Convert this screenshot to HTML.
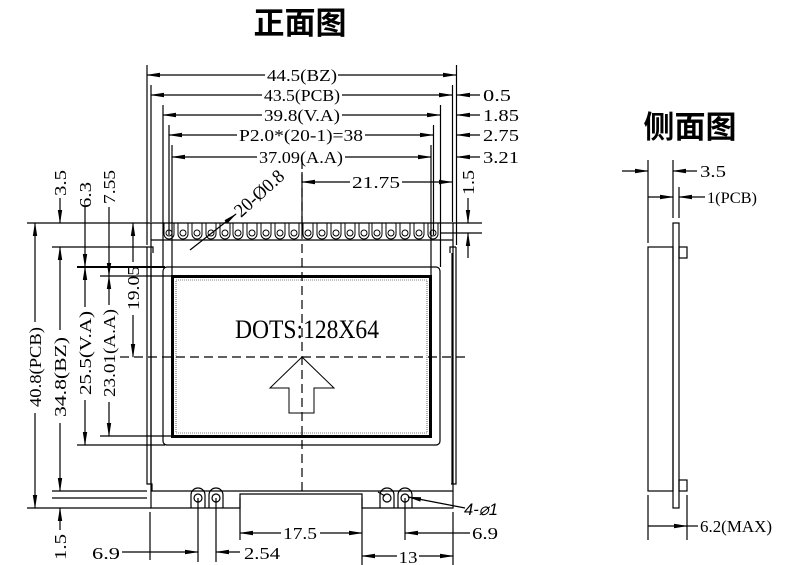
<!DOCTYPE html>
<html><head><meta charset="utf-8"><style>
html,body{margin:0;padding:0;background:#fff;}
svg{display:block;}
text{font-family:"Liberation Serif","Noto Serif CJK SC",serif;font-size:17px;fill:#000;}
.t{font-family:"Liberation Sans","Noto Sans CJK SC",sans-serif;font-size:31px;font-weight:bold;}
</style></head><body>
<svg width="797" height="565" viewBox="0 0 797 565" xmlns="http://www.w3.org/2000/svg">
<defs>
<marker id="a" markerWidth="14" markerHeight="6" refX="13" refY="3" orient="auto-start-reverse" markerUnits="userSpaceOnUse"><path d="M0,0.8 L14,3 L0,5.2 Z" fill="#000"/></marker>
</defs>
<text class="t" x="300" y="34" text-anchor="middle">正面图</text>
<text class="t" x="690" y="138" text-anchor="middle">侧面图</text>

<g stroke="#000" stroke-width="1.2" fill="none">
<line x1="147" y1="65" x2="147" y2="245"/><line x1="456.5" y1="65" x2="456.5" y2="245"/>
<line x1="151" y1="85" x2="151" y2="222"/><line x1="452.5" y1="85" x2="452.5" y2="222"/>
<line x1="163" y1="105" x2="163" y2="267"/><line x1="440.5" y1="105" x2="440.5" y2="267"/>
<line x1="169" y1="125" x2="169" y2="235"/><line x1="433.5" y1="125" x2="433.5" y2="235"/>
<line x1="172" y1="145" x2="172" y2="278"/><line x1="431" y1="145" x2="431" y2="278"/>
<line x1="302" y1="172" x2="302" y2="230"/>
<line x1="147" y1="75" x2="265" y2="75" marker-start="url(#a)"/><line x1="338" y1="75" x2="456" y2="75" marker-end="url(#a)"/>
<line x1="151" y1="95" x2="262" y2="95" marker-start="url(#a)"/><line x1="342" y1="95" x2="452" y2="95" marker-end="url(#a)"/>
<line x1="480" y1="95" x2="457" y2="95" marker-end="url(#a)"/>
<line x1="163" y1="115" x2="262" y2="115" marker-start="url(#a)"/><line x1="342" y1="115" x2="440" y2="115" marker-end="url(#a)"/>
<line x1="480" y1="115" x2="457" y2="115" marker-end="url(#a)"/>
<line x1="169" y1="135" x2="237" y2="135" marker-start="url(#a)"/><line x1="365" y1="135" x2="433" y2="135" marker-end="url(#a)"/>
<line x1="480" y1="135" x2="457" y2="135" marker-end="url(#a)"/>
<line x1="172" y1="157" x2="257" y2="157" marker-start="url(#a)"/><line x1="345" y1="157" x2="431" y2="157" marker-end="url(#a)"/>
<line x1="480" y1="157" x2="457" y2="157" marker-end="url(#a)"/>
<line x1="302" y1="182" x2="350" y2="182" marker-start="url(#a)"/><line x1="402" y1="182" x2="452" y2="182" marker-end="url(#a)"/>
<line x1="453" y1="223" x2="482" y2="223"/><line x1="440" y1="233" x2="482" y2="233"/>
<line x1="468" y1="198" x2="468" y2="223" marker-end="url(#a)"/><line x1="468" y1="258" x2="468" y2="233" marker-end="url(#a)"/>

<path d="M151,223 H453 V508 H362 V494 H240 V508 H151 Z"/>
<line x1="151" y1="240" x2="453" y2="240"/>
<path d="M147,247 H153 V253 M456,247 H450 V253"/>
<path d="M147,247 V484 H152 V491 H453 M456,247 V484 H451"/>
<path d="M151,253 V484 M452,253 V484"/>

<rect x="163" y="267" width="277" height="178" rx="4"/>
<rect x="172.5" y="276.5" width="258" height="160" stroke-width="3"/>
<rect x="176" y="280" width="251" height="153" stroke-width="0.6" stroke-dasharray="1,1"/>
<path d="M302,357 L270,388 H289 V413 H314 V388 H334 Z" stroke-width="1"/>
<line x1="302" y1="160" x2="302" y2="492" stroke-dasharray="9,5"/>
<line x1="120" y1="357" x2="470" y2="357" stroke-dasharray="9,5"/>

<line x1="27" y1="223" x2="151" y2="223"/>
<line x1="52" y1="247" x2="147" y2="247"/>
<line x1="77" y1="267" x2="165" y2="267" stroke-width="2"/>
<line x1="100" y1="276" x2="172" y2="276"/>
<line x1="100" y1="436" x2="172" y2="436"/>
<line x1="77" y1="445" x2="165" y2="445"/>
<line x1="52" y1="491" x2="147" y2="491"/>
<line x1="52" y1="498" x2="147" y2="498"/>
<line x1="27" y1="508" x2="151" y2="508"/>
<line x1="35" y1="223" x2="35" y2="322" marker-start="url(#a)"/><line x1="35" y1="413" x2="35" y2="508" marker-end="url(#a)"/>
<line x1="60" y1="198" x2="60" y2="223" marker-end="url(#a)"/>
<line x1="60" y1="247" x2="60" y2="330" marker-start="url(#a)"/><line x1="60" y1="423" x2="60" y2="491" marker-end="url(#a)"/>
<line x1="60" y1="530" x2="60" y2="508" marker-end="url(#a)"/>
<line x1="85" y1="207" x2="85" y2="267" marker-end="url(#a)" />
<line x1="85" y1="267" x2="85" y2="307" marker-start="url(#a)"/><line x1="85" y1="400" x2="85" y2="445" marker-end="url(#a)"/>
<line x1="109" y1="207" x2="109" y2="276" marker-end="url(#a)"/>
<line x1="109" y1="276" x2="109" y2="305" marker-start="url(#a)"/><line x1="109" y1="402" x2="109" y2="436" marker-end="url(#a)"/>
<line x1="133" y1="223" x2="133" y2="262" marker-start="url(#a)"/><line x1="133" y1="315" x2="133" y2="357" marker-end="url(#a)"/>

<line x1="150" y1="512" x2="150" y2="560"/><line x1="453" y1="512" x2="453" y2="565"/>
<line x1="240" y1="498" x2="240" y2="540"/><line x1="362" y1="498" x2="362" y2="565"/>
<line x1="198" y1="498" x2="198" y2="562"/><line x1="216" y1="498" x2="216" y2="562"/>
<line x1="405" y1="498" x2="405" y2="540"/>
<line x1="122" y1="552" x2="198" y2="552" marker-end="url(#a)"/>
<line x1="240" y1="552" x2="216" y2="552" marker-end="url(#a)"/>
<line x1="240" y1="533" x2="281" y2="533" marker-start="url(#a)"/><line x1="320" y1="533" x2="362" y2="533" marker-end="url(#a)"/>
<line x1="362" y1="556" x2="397" y2="556" marker-start="url(#a)"/><line x1="419" y1="556" x2="453" y2="556" marker-end="url(#a)"/>
<line x1="405" y1="533" x2="470" y2="533" marker-start="url(#a)"/>
<line x1="465" y1="508" x2="408" y2="497" marker-end="url(#a)"/>
<line x1="378" y1="492" x2="385" y2="496"/>
<path d="M191,508 V495 A7,7 0 0 1 205,495 V508 M209,508 V495 A7,7 0 0 1 223,495 V508"/>
<path d="M380,508 V495 A7,7 0 0 1 394,495 V508 M398,508 V495 A7,7 0 0 1 412,495 V508"/>
<circle cx="198" cy="498" r="4"/><circle cx="216" cy="498" r="4"/>
<circle cx="387" cy="498" r="4"/><circle cx="405" cy="498" r="4"/>

<line x1="236" y1="214" x2="190" y2="250" marker-start="url(#a)" />

<rect x="648" y="247" width="25" height="244"/>
<rect x="673" y="223" width="6" height="285"/>
<rect x="679" y="247" width="8" height="11"/>
<rect x="679" y="480" width="8" height="11"/>
<line x1="648" y1="160" x2="648" y2="243"/><line x1="673" y1="160" x2="673" y2="218"/>
<line x1="679" y1="187" x2="679" y2="218"/>
<line x1="622" y1="171" x2="648" y2="171" marker-end="url(#a)"/><line x1="697" y1="171" x2="673" y2="171" marker-end="url(#a)"/>
<line x1="648" y1="197" x2="673" y2="197" marker-end="url(#a)"/><line x1="705" y1="197" x2="679" y2="197" marker-end="url(#a)"/>
<line x1="648" y1="495" x2="648" y2="540"/><line x1="687" y1="495" x2="687" y2="540"/>
<line x1="648" y1="526" x2="687" y2="526" marker-end="url(#a)"/>
<line x1="687" y1="526" x2="698" y2="526"/>
</g>

<g stroke="#000" stroke-width="1" fill="none">
<path d="M164,223 V234 A5,5 0 0 0 174,234 V223 M178,223 V234 A5,5 0 0 0 188,234 V223 M192,223 V234 A5,5 0 0 0 202,234 V223 M206,223 V234 A5,5 0 0 0 216,234 V223 M220,223 V234 A5,5 0 0 0 230,234 V223 M233,223 V234 A5,5 0 0 0 243,234 V223 M247,223 V234 A5,5 0 0 0 257,234 V223 M261,223 V234 A5,5 0 0 0 271,234 V223 M275,223 V234 A5,5 0 0 0 285,234 V223 M289,223 V234 A5,5 0 0 0 299,234 V223 M303,223 V234 A5,5 0 0 0 313,234 V223 M317,223 V234 A5,5 0 0 0 327,234 V223 M331,223 V234 A5,5 0 0 0 341,234 V223 M345,223 V234 A5,5 0 0 0 355,234 V223 M359,223 V234 A5,5 0 0 0 369,234 V223 M372,223 V234 A5,5 0 0 0 382,234 V223 M386,223 V234 A5,5 0 0 0 396,234 V223 M400,223 V234 A5,5 0 0 0 410,234 V223 M414,223 V234 A5,5 0 0 0 424,234 V223 M428,223 V234 A5,5 0 0 0 438,234 V223"/>
<circle cx="169" cy="233" r="3"/><circle cx="183" cy="233" r="3"/><circle cx="197" cy="233" r="3"/><circle cx="211" cy="233" r="3"/><circle cx="225" cy="233" r="3"/><circle cx="238" cy="233" r="3"/><circle cx="252" cy="233" r="3"/><circle cx="266" cy="233" r="3"/><circle cx="280" cy="233" r="3"/><circle cx="294" cy="233" r="3"/><circle cx="308" cy="233" r="3"/><circle cx="322" cy="233" r="3"/><circle cx="336" cy="233" r="3"/><circle cx="350" cy="233" r="3"/><circle cx="364" cy="233" r="3"/><circle cx="377" cy="233" r="3"/><circle cx="391" cy="233" r="3"/><circle cx="405" cy="233" r="3"/><circle cx="419" cy="233" r="3"/><circle cx="433" cy="233" r="3"/>
</g>

<g>
<text x="302" y="81" text-anchor="middle" textLength="70" lengthAdjust="spacingAndGlyphs">44.5(BZ)</text>
<text x="302" y="101" text-anchor="middle" textLength="76" lengthAdjust="spacingAndGlyphs">43.5(PCB)</text>
<text x="302" y="121" text-anchor="middle" textLength="76" lengthAdjust="spacingAndGlyphs">39.8(V.A)</text>
<text x="301" y="141" text-anchor="middle" textLength="124" lengthAdjust="spacingAndGlyphs">P2.0*(20-1)=38</text>
<text x="301" y="163" text-anchor="middle" textLength="84" lengthAdjust="spacingAndGlyphs">37.09(A.A)</text>
<text x="376" y="188" text-anchor="middle" textLength="48" lengthAdjust="spacingAndGlyphs">21.75</text>
<text x="483" y="101" textLength="28" lengthAdjust="spacingAndGlyphs">0.5</text>
<text x="483" y="121" textLength="36" lengthAdjust="spacingAndGlyphs">1.85</text>
<text x="483" y="141" textLength="36" lengthAdjust="spacingAndGlyphs">2.75</text>
<text x="483" y="163" textLength="36" lengthAdjust="spacingAndGlyphs">3.21</text>
<text transform="translate(474,195) rotate(-90)" textLength="25" lengthAdjust="spacingAndGlyphs">1.5</text>
<text x="307" y="338" text-anchor="middle" style="font-size:26px" textLength="144" lengthAdjust="spacingAndGlyphs">DOTS:128X64</text>
<text transform="translate(241,218) rotate(-42)" style="font-size:19px" textLength="60" lengthAdjust="spacingAndGlyphs">20-Ø0.8</text>

<text transform="translate(41,367) rotate(-90)" text-anchor="middle" textLength="80" lengthAdjust="spacingAndGlyphs">40.8(PCB)</text>
<text transform="translate(66,377) rotate(-90)" text-anchor="middle" textLength="80" lengthAdjust="spacingAndGlyphs">34.8(BZ)</text>
<text transform="translate(91,353) rotate(-90)" text-anchor="middle" textLength="84" lengthAdjust="spacingAndGlyphs">25.5(V.A)</text>
<text transform="translate(115,353) rotate(-90)" text-anchor="middle" textLength="88" lengthAdjust="spacingAndGlyphs">23.01(A.A)</text>
<text transform="translate(139,288) rotate(-90)" text-anchor="middle" textLength="44" lengthAdjust="spacingAndGlyphs">19.05</text>
<text transform="translate(66,183) rotate(-90)" text-anchor="middle" textLength="26" lengthAdjust="spacingAndGlyphs">3.5</text>
<text transform="translate(91,195) rotate(-90)" text-anchor="middle" textLength="26" lengthAdjust="spacingAndGlyphs">6.3</text>
<text transform="translate(115,187) rotate(-90)" text-anchor="middle" textLength="34" lengthAdjust="spacingAndGlyphs">7.55</text>
<text transform="translate(66,547) rotate(-90)" text-anchor="middle" textLength="26" lengthAdjust="spacingAndGlyphs">1.5</text>

<text x="92" y="559" textLength="28" lengthAdjust="spacingAndGlyphs">6.9</text>
<text x="244" y="559" textLength="36" lengthAdjust="spacingAndGlyphs">2.54</text>
<text x="300" y="539" text-anchor="middle" textLength="34" lengthAdjust="spacingAndGlyphs">17.5</text>
<text x="408" y="563" text-anchor="middle" textLength="19" lengthAdjust="spacingAndGlyphs">13</text>
<text x="472" y="539" textLength="26" lengthAdjust="spacingAndGlyphs">6.9</text>
<text x="464" y="515" style="font-family:'Liberation Sans',sans-serif;font-size:17px;font-style:italic" textLength="34" lengthAdjust="spacingAndGlyphs">4-⌀1</text>

<text x="700" y="177" textLength="26" lengthAdjust="spacingAndGlyphs">3.5</text>
<text x="707" y="203" style="font-size:16px" textLength="50" lengthAdjust="spacingAndGlyphs">1(PCB)</text>
<text x="700" y="532" style="font-size:17px" textLength="72" lengthAdjust="spacingAndGlyphs">6.2(MAX)</text>
</g>
</svg>
</body></html>
